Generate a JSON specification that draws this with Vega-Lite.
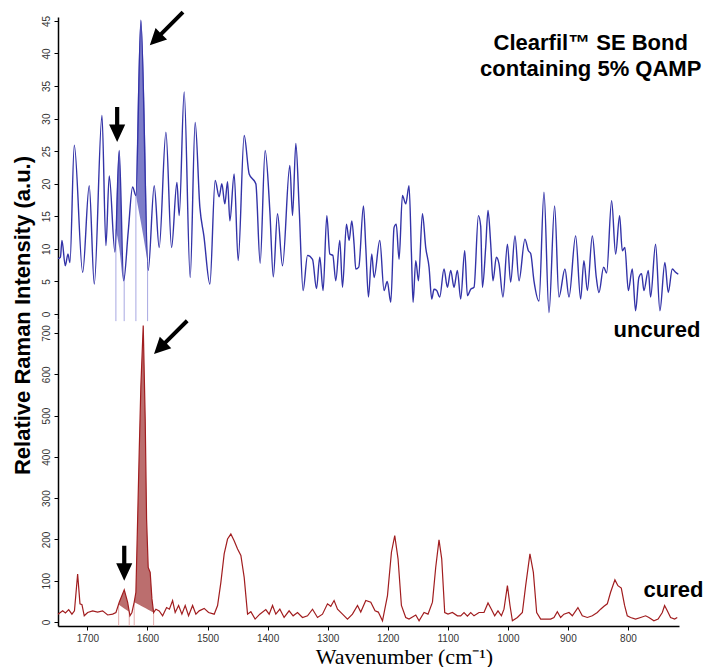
{
"$schema":"https://vega.github.io/schema/vega-lite/v6.json",
"background":"white",
"padding":{"left":10,"top":10,"right":4,"bottom":0},
"spacing":0,
"bounds":"flush",
"resolve":{"scale":{"y":"independent"}},
"config":{"view":{"stroke":null},"axis":{"grid":false,"domainColor":"black","tickColor":"black","labelFont":"Liberation Sans","labelColor":"#333333","labelFontSize":10}},
"datasets":{
"uncured":[{"w":1749,"v":8.5},{"w":1745,"v":8.7},{"w":1742.4,"v":11.3},{"w":1736.9,"v":7.4},{"w":1732.4,"v":9.2},{"w":1729.1,"v":7.9},{"w":1721.9,"v":25.9},{"w":1707.9,"v":6.4},{"w":1697,"v":19.7},{"w":1688.6,"v":4.6},{"w":1675.8,"v":30.5},{"w":1669.2,"v":10.5},{"w":1663.7,"v":21.2},{"w":1654.2,"v":9.5},{"w":1647.1,"v":25.1},{"w":1639.7,"v":5.1},{"w":1632.1,"v":12.6},{"w":1624.8,"v":19.5},{"w":1619.3,"v":18.2},{"w":1611,"v":45.1},{"w":1598.8,"v":6.7},{"w":1588.8,"v":19.7},{"w":1580.5,"v":10.2},{"w":1569.3,"v":27.9},{"w":1559.9,"v":10.2},{"w":1551,"v":20.2},{"w":1547.2,"v":15.1},{"w":1538.9,"v":34.1},{"w":1528.9,"v":5.6},{"w":1520.6,"v":29.4},{"w":1512.8,"v":16.4},{"w":1506.1,"v":12},{"w":1496.1,"v":4.6},{"w":1487.3,"v":20.5},{"w":1480.7,"v":18},{"w":1476.2,"v":20},{"w":1471.2,"v":16.9},{"w":1466.7,"v":20.3},{"w":1462.8,"v":14.3},{"w":1455.7,"v":21.5},{"w":1449,"v":8.2},{"w":1439,"v":27.4},{"w":1430.7,"v":21.5},{"w":1419.6,"v":20},{"w":1412.4,"v":7.8},{"w":1404.1,"v":25.1},{"w":1396.3,"v":15.9},{"w":1390.5,"v":5.7},{"w":1383.5,"v":15.4},{"w":1375.2,"v":7.4},{"w":1363,"v":22.8},{"w":1358.5,"v":15.1},{"w":1353,"v":26.2},{"w":1347.5,"v":16.4},{"w":1340.9,"v":3.6},{"w":1333.5,"v":9},{"w":1325.2,"v":8.4},{"w":1318.6,"v":3.9},{"w":1313.1,"v":8.7},{"w":1307.6,"v":3.6},{"w":1301.4,"v":15.1},{"w":1296.4,"v":9.2},{"w":1291.4,"v":9},{"w":1286.5,"v":5.1},{"w":1279.8,"v":11.3},{"w":1275.3,"v":4.1},{"w":1268.7,"v":13.8},{"w":1264.3,"v":11.3},{"w":1259.8,"v":14.3},{"w":1256,"v":10.7},{"w":1253.2,"v":6.9},{"w":1248.2,"v":7.2},{"w":1240.4,"v":16.6},{"w":1236.5,"v":10.2},{"w":1232.1,"v":2.6},{"w":1226.6,"v":9.2},{"w":1222.7,"v":5.6},{"w":1213.2,"v":11.3},{"w":1206.1,"v":3.6},{"w":1200.8,"v":5},{"w":1194.9,"v":1.8},{"w":1189.4,"v":13.3},{"w":1185.8,"v":13.8},{"w":1181.1,"v":8.4},{"w":1175.5,"v":18.2},{"w":1170,"v":16.9},{"w":1164.5,"v":19.7},{"w":1160.5,"v":9.2},{"w":1157.8,"v":1.8},{"w":1153.3,"v":8.2},{"w":1148.8,"v":5.1},{"w":1142.2,"v":15.4},{"w":1136.7,"v":10.2},{"w":1131.2,"v":7.2},{"w":1126.7,"v":2.3},{"w":1122.9,"v":3.8},{"w":1118.4,"v":3.6},{"w":1113.4,"v":2.6},{"w":1106.3,"v":6.9},{"w":1100.6,"v":4.1},{"w":1095.1,"v":6.7},{"w":1089.6,"v":4.1},{"w":1084,"v":6.7},{"w":1078.5,"v":2.3},{"w":1071.8,"v":9.7},{"w":1067.3,"v":2.8},{"w":1061.8,"v":3.8},{"w":1056.3,"v":4.1},{"w":1049,"v":15.1},{"w":1045.2,"v":13.5},{"w":1042.3,"v":4.1},{"w":1036.9,"v":10.2},{"w":1033,"v":15.9},{"w":1028.5,"v":10.7},{"w":1024.7,"v":5.1},{"w":1019.1,"v":8.7},{"w":1014.7,"v":7.7},{"w":1008.1,"v":2.6},{"w":1000.7,"v":10.7},{"w":995.3,"v":4.9},{"w":988.1,"v":12},{"w":981.4,"v":5.1},{"w":971.5,"v":11.5},{"w":965.8,"v":9.7},{"w":962,"v":9.3},{"w":956.5,"v":5.1},{"w":948.1,"v":2},{"w":939.8,"v":18.7},{"w":931.5,"v":0.2},{"w":922.1,"v":16.6},{"w":914.9,"v":2.6},{"w":904.9,"v":6.9},{"w":898.2,"v":2.6},{"w":887.1,"v":12},{"w":878.8,"v":2.3},{"w":873.3,"v":8.2},{"w":867.6,"v":3.6},{"w":859.3,"v":12},{"w":852.7,"v":5.6},{"w":848.3,"v":3.3},{"w":840.5,"v":7.2},{"w":835.5,"v":6.3},{"w":827.2,"v":17.4},{"w":820.5,"v":9.2},{"w":813.9,"v":15.1},{"w":809.4,"v":9.7},{"w":805.1,"v":10.2},{"w":799.4,"v":3.6},{"w":792.8,"v":6.9},{"w":787.3,"v":0.5},{"w":781.8,"v":5.6},{"w":777.3,"v":6.2},{"w":773.4,"v":3.6},{"w":766.1,"v":6.7},{"w":762.3,"v":2.6},{"w":754,"v":10.7},{"w":746.8,"v":0.5},{"w":738.5,"v":7.9},{"w":732.9,"v":3.3},{"w":726.2,"v":6.9},{"w":720.7,"v":6.4},{"w":716.2,"v":6.1}],
"cured":[{"w":1749,"v":19},{"w":1741.2,"v":27},{"w":1736.6,"v":22},{"w":1731.2,"v":30},{"w":1725.8,"v":19},{"w":1721.6,"v":27},{"w":1716.3,"v":116},{"w":1712.4,"v":44},{"w":1709.1,"v":42},{"w":1705.3,"v":15},{"w":1699.6,"v":23},{"w":1691.3,"v":27},{"w":1683,"v":24},{"w":1674.7,"v":27},{"w":1666.3,"v":17},{"w":1658,"v":19},{"w":1652.5,"v":23},{"w":1647,"v":48},{"w":1638.7,"v":78},{"w":1633.1,"v":48},{"w":1629.2,"v":15},{"w":1625.9,"v":23},{"w":1622.1,"v":48},{"w":1619.3,"v":72},{"w":1616.4,"v":249},{"w":1613.8,"v":411},{"w":1611,"v":572},{"w":1607.1,"v":718},{"w":1603.8,"v":492},{"w":1601.5,"v":249},{"w":1598.8,"v":132},{"w":1595.5,"v":120},{"w":1592.6,"v":56},{"w":1589.8,"v":23},{"w":1586,"v":31},{"w":1580.5,"v":27},{"w":1574.8,"v":15},{"w":1568.2,"v":35},{"w":1563.5,"v":31},{"w":1558.2,"v":52},{"w":1553.9,"v":23},{"w":1548.2,"v":40},{"w":1542.7,"v":19},{"w":1537.2,"v":40},{"w":1531.6,"v":15},{"w":1524.9,"v":40},{"w":1519.4,"v":19},{"w":1513.9,"v":27},{"w":1505.6,"v":33},{"w":1498.3,"v":23},{"w":1488.9,"v":19},{"w":1483.3,"v":40},{"w":1477.8,"v":96},{"w":1472.3,"v":165},{"w":1466.7,"v":201},{"w":1461.2,"v":213},{"w":1455.7,"v":197},{"w":1450,"v":177},{"w":1444.5,"v":161},{"w":1439,"v":108},{"w":1433.4,"v":19},{"w":1427.9,"v":25},{"w":1420.8,"v":7},{"w":1413,"v":19},{"w":1403,"v":30},{"w":1397.4,"v":19},{"w":1391.8,"v":40},{"w":1386.3,"v":19},{"w":1379.6,"v":31},{"w":1372.5,"v":11},{"w":1364.2,"v":27},{"w":1357.5,"v":15},{"w":1350.2,"v":23},{"w":1341.9,"v":11},{"w":1333.5,"v":15},{"w":1325.2,"v":31},{"w":1316.9,"v":11},{"w":1308.6,"v":19},{"w":1300.3,"v":44},{"w":1294.8,"v":38},{"w":1289.3,"v":52},{"w":1283.6,"v":31},{"w":1275.3,"v":19},{"w":1267,"v":7},{"w":1258.7,"v":19},{"w":1250.3,"v":40},{"w":1244.9,"v":24},{"w":1236.5,"v":52},{"w":1228.2,"v":48},{"w":1221.1,"v":27},{"w":1215.7,"v":24},{"w":1208.7,"v":3},{"w":1200.4,"v":64},{"w":1193.8,"v":169},{"w":1188.3,"v":209},{"w":1182.8,"v":153},{"w":1177.2,"v":40},{"w":1170,"v":11},{"w":1164.5,"v":7},{"w":1158.8,"v":12},{"w":1153.3,"v":17},{"w":1147.8,"v":3},{"w":1139.5,"v":23},{"w":1132.9,"v":19},{"w":1125.5,"v":48},{"w":1120.1,"v":132},{"w":1114.6,"v":199},{"w":1110.1,"v":153},{"w":1105.1,"v":23},{"w":1099.6,"v":19},{"w":1092.3,"v":23},{"w":1084,"v":15},{"w":1078.5,"v":15},{"w":1073,"v":23},{"w":1067.3,"v":14},{"w":1061.8,"v":23},{"w":1056.3,"v":15},{"w":1048,"v":23},{"w":1039.7,"v":23},{"w":1033,"v":46},{"w":1027.4,"v":31},{"w":1021.9,"v":15},{"w":1016.4,"v":27},{"w":1010.7,"v":15},{"w":1006.4,"v":31},{"w":1000.7,"v":88},{"w":996.4,"v":40},{"w":992.4,"v":3},{"w":984.1,"v":11},{"w":975.8,"v":23},{"w":970.3,"v":88},{"w":963.2,"v":165},{"w":957.5,"v":120},{"w":952,"v":23},{"w":945.3,"v":7},{"w":937,"v":7},{"w":928.7,"v":7},{"w":923.2,"v":11},{"w":917.6,"v":25},{"w":912.1,"v":11},{"w":906.6,"v":19},{"w":898.2,"v":23},{"w":892.6,"v":15},{"w":883.3,"v":35},{"w":876,"v":15},{"w":867.6,"v":11},{"w":859.3,"v":15},{"w":851,"v":23},{"w":845.5,"v":31},{"w":839.9,"v":38},{"w":834.4,"v":44},{"w":828.9,"v":72},{"w":821.7,"v":102},{"w":816.7,"v":88},{"w":811.1,"v":82},{"w":805.6,"v":40},{"w":801.1,"v":15},{"w":795.6,"v":11},{"w":787.3,"v":7},{"w":778.9,"v":11},{"w":770.6,"v":15},{"w":765.1,"v":11},{"w":756.8,"v":3},{"w":749.8,"v":7},{"w":742.8,"v":23},{"w":739,"v":40},{"w":734.5,"v":27},{"w":729,"v":11},{"w":722.3,"v":7},{"w":717.9,"v":11}],
"ubands":[{"b":1,"w":1652.6,"v":13.0,"base":13.0},{"b":1,"w":1647.1,"v":25.1,"base":10.2},{"b":1,"w":1639.7,"v":5.1,"base":5.1},{"b":1,"w":1638.8,"v":6.0,"base":6.0},{"b":2,"w":1619.3,"v":18.2,"base":18.2},{"b":2,"w":1611,"v":45.1,"base":14.1},{"b":2,"w":1599.8,"v":8.0,"base":8.0}],
"urules":[{"w":1652.6,"v":13.0},{"w":1638.8,"v":6.0},{"w":1619.3,"v":18.2},{"w":1599.8,"v":8.0}],
"cbands":[{"b":1,"w":1648,"v":42,"base":42},{"b":1,"w":1647,"v":48,"base":41},{"b":1,"w":1638.7,"v":78,"base":32.8},{"b":1,"w":1633.1,"v":48,"base":27.3},{"b":1,"w":1630.4,"v":25,"base":25},{"b":2,"w":1622.1,"v":48,"base":48},{"b":2,"w":1619.3,"v":72,"base":45.8},{"b":2,"w":1616.4,"v":249,"base":43.6},{"b":2,"w":1613.8,"v":411,"base":41.6},{"b":2,"w":1611,"v":572,"base":39.4},{"b":2,"w":1607.1,"v":718,"base":36.4},{"b":2,"w":1603.8,"v":492,"base":33.8},{"b":2,"w":1601.5,"v":249,"base":32},{"b":2,"w":1598.8,"v":132,"base":29.9},{"b":2,"w":1595.5,"v":120,"base":27.4},{"b":2,"w":1592.6,"v":56,"base":25.1},{"b":2,"w":1589.8,"v":23,"base":23}],
"crules":[{"w":1648,"v":42},{"w":1630.4,"v":25},{"w":1622.1,"v":48},{"w":1589.8,"v":23}],
"arrows":[{"p":"u","k":"down","w":1650.5,"v":29.1},{"p":"u","k":"diag","w":1568.5,"v":43.8},{"p":"c","k":"down","w":1638.7,"v":142.4},{"p":"c","k":"diag","w":1561.5,"v":689.5}],
"labels":[{"p":"u","t":"Clearfil™ SE Bond","w":862,"v":40.6},{"p":"u","t":"containing 5% QAMP","w":862,"v":36.6},{"p":"c","t":"uncured","w":824,"v":690},{"p":"c","t":"cured","w":774,"v":60.5}]
},
"vconcat":[
{"width":621,"height":302,
"encoding":{
"x":{"field":"w","type":"quantitative","scale":{"domain":[715,1749],"reverse":true,"nice":false,"zero":false},"axis":null},
"y":{"field":"v","type":"quantitative","scale":{"domain":[-0.77,45.6],"nice":false,"zero":false},"axis":{"values":[0,5,10,15,20,25,30,35,40,45],"format":"d","title":null,"labelAngle":270,"labelAlign":"center","labelBaseline":"bottom","labelPadding":3,"tickSize":4,"domainWidth":1.5}}},
"layer":[
{"data":{"name":"ubands"},"mark":{"type":"area","color":"#5C5CBC","opacity":0.8,"interpolate":"monotone"},"encoding":{"y2":{"field":"base"},"detail":{"field":"b"}}},
{"data":{"name":"urules"},"mark":{"type":"rule","color":"#A8A8E2","strokeWidth":1},"encoding":{"y2":{"datum":-1.1}}},
{"data":{"name":"uncured"},"mark":{"type":"line","color":"#3333A8","strokeWidth":1.4,"interpolate":"monotone"}},
{"data":{"name":"arrows"},"transform":[{"filter":"datum.p === 'u' && datum.k === 'down'"}],"mark":{"type":"point","shape":"M-0.12,-1L0.12,-1L0.12,0L0.46,0L0,1L-0.46,0L-0.12,0Z","size":1225,"filled":true,"color":"black","opacity":1,"strokeWidth":0}},
{"data":{"name":"arrows"},"transform":[{"filter":"datum.p === 'u' && datum.k === 'diag'"}],"mark":{"type":"point","shape":"M0.915,-1.085L1.085,-0.915L-0.222,0.392L0.039,0.653L-1,1L-0.653,-0.039L-0.392,0.222Z","size":1100,"filled":true,"color":"black","opacity":1,"strokeWidth":0}},
{"data":{"name":"labels"},"transform":[{"filter":"datum.p === 'u'"}],"mark":{"type":"text","font":"Liberation Sans","fontWeight":"bold","fontSize":22,"align":"center","baseline":"alphabetic","color":"black"},"encoding":{"text":{"field":"t"}}}
]},
{"width":621,"height":307,
"encoding":{
"x":{"field":"w","type":"quantitative","scale":{"domain":[715,1749],"reverse":true,"nice":false,"zero":false},"axis":{"values":[800,900,1000,1100,1200,1300,1400,1500,1600,1700],"format":"d","title":"Wavenumber (cm⁻¹)","titleFont":"Liberation Serif","titleFontSize":22,"titleFontWeight":"normal","titleColor":"black","titleX":346,"titleY":37,"titleAlign":"center","titleBaseline":"alphabetic","tickSize":4,"labelPadding":3,"domainWidth":1.5,"labelFlush":false}},
"y":{"field":"v","type":"quantitative","scale":{"domain":[-9.7,733.9],"nice":false,"zero":false},"axis":{"values":[0,100,200,300,400,500,600,700],"format":"d","title":"Relative Raman Intensity (a.u.)","titleFont":"Liberation Sans","titleFontSize":22,"titleFontWeight":"bold","titleColor":"black","titleAngle":270,"titleX":-29,"titleY":-4,"titleAlign":"center","titleBaseline":"alphabetic","labelAngle":270,"labelAlign":"center","labelBaseline":"bottom","labelPadding":3,"tickSize":4,"domainWidth":1.5}}},
"layer":[
{"data":{"name":"cbands"},"mark":{"type":"area","color":"#B45E5E","opacity":0.9},"encoding":{"y2":{"field":"base"},"detail":{"field":"b"}}},
{"data":{"name":"crules"},"mark":{"type":"rule","color":"#E3AEAE","strokeWidth":1},"encoding":{"y2":{"datum":-9.7}}},
{"data":{"name":"cured"},"mark":{"type":"line","color":"#A11D1F","strokeWidth":1.2}},
{"data":{"name":"arrows"},"transform":[{"filter":"datum.p === 'c' && datum.k === 'down'"}],"mark":{"type":"point","shape":"M-0.12,-1L0.12,-1L0.12,0L0.46,0L0,1L-0.46,0L-0.12,0Z","size":1225,"filled":true,"color":"black","opacity":1,"strokeWidth":0}},
{"data":{"name":"arrows"},"transform":[{"filter":"datum.p === 'c' && datum.k === 'diag'"}],"mark":{"type":"point","shape":"M0.915,-1.085L1.085,-0.915L-0.222,0.392L0.039,0.653L-1,1L-0.653,-0.039L-0.392,0.222Z","size":1100,"filled":true,"color":"black","opacity":1,"strokeWidth":0}},
{"data":{"name":"labels"},"transform":[{"filter":"datum.p === 'c'"}],"mark":{"type":"text","font":"Liberation Sans","fontWeight":"bold","fontSize":22,"align":"left","baseline":"alphabetic","color":"black"},"encoding":{"text":{"field":"t"}}}
]}
]
}
